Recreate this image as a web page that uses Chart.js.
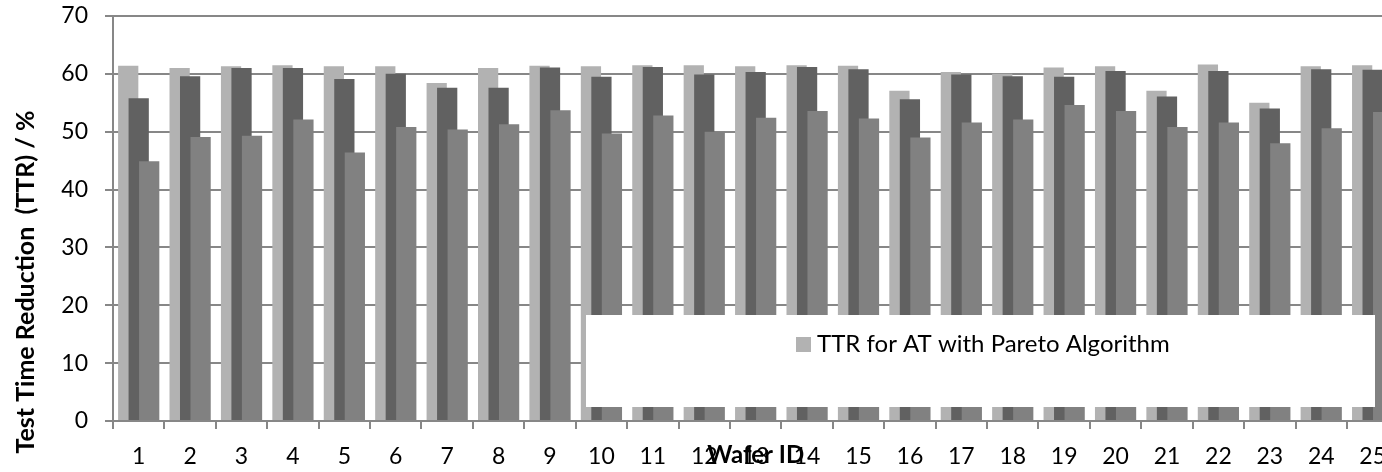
<!DOCTYPE html>
<html>
<head>
<meta charset="utf-8">
<script src="https://cdn.jsdelivr.net/npm/chart.js@4/dist/chart.umd.min.js"></script>
<style>
  html, body { margin: 0; padding: 0; background: #fff; overflow: hidden; }
  #wrap { width: 1400px; height: 472px; }
</style>
</head>
<body>
<div id="wrap"><canvas id="ttrChart" width="1400" height="472"></canvas></div>
<script>
// ---- Data ----
const wafers = ['1', '2', '3', '4', '5', '6', '7', '8', '9', '10', '11', '12', '13',
                '14', '15', '16', '17', '18', '19', '20', '21', '22', '23', '24', '25'];
const ttrPareto = [61.4, 61.0, 61.3, 61.5, 61.3, 61.3, 58.4, 61.0, 61.4, 61.3, 61.5, 61.5, 61.3,
                   61.5, 61.4, 57.1, 60.3, 60.0, 61.1, 61.3, 57.1, 61.6, 55.0, 61.3, 61.5];
const ttrSecond = [55.8, 59.6, 61.0, 61.0, 59.1, 60.0, 57.6, 57.6, 61.1, 59.5, 61.2, 59.9, 60.3,
                   61.2, 60.8, 55.6, 59.9, 59.6, 59.5, 60.5, 56.1, 60.5, 54.0, 60.8, 60.7];
const ttrThird = [44.9, 49.1, 49.3, 52.1, 46.4, 50.8, 50.4, 51.3, 53.7, 49.7, 52.8, 50.0, 52.4,
                  53.6, 52.3, 49.0, 51.6, 52.1, 54.6, 53.6, 50.8, 51.6, 48.0, 50.6, 53.4];
const yTicks = [0, 10, 20, 30, 40, 50, 60, 70];

const FONT = 'Lato, "Open Sans", sans-serif';
const GRID = '#878787';

// draw series in index order so each later bar overlaps the previous one
const drawOrderPlugin = {
    id: 'drawOrder',
    beforeDatasetsDraw(chart) {
        chart.getSortedVisibleDatasetMetas().forEach(meta => chart._drawDataset(meta));
        return false;
    }
};

// axis titles + the white legend box sitting over the bars
const overlayPlugin = {
    id: 'overlay',
    afterDraw(chart) {
        const { ctx, chartArea } = chart;
        ctx.save();

        // legend box
        ctx.fillStyle = '#ffffff';
        ctx.fillRect(586, 315, 789, 92);
        const ds = chart.data.datasets[0];
        ctx.fillStyle = ds.backgroundColor;
        ctx.fillRect(796, 337, 15, 15);
        ctx.fillStyle = '#000';
        ctx.font = '24px ' + FONT;
        ctx.textAlign = 'left';
        ctx.textBaseline = 'alphabetic';
        ctx.fillText(ds.label, 817, 352);

        // x title (overlaps the tick labels, as in the original)
        ctx.font = 'bold 24px ' + FONT;
        ctx.textAlign = 'center';
        ctx.fillText('Wafer ID', (chartArea.left + chartArea.right) / 2, 463);

        // y title
        ctx.font = 'bold 25px ' + FONT;
        ctx.translate(34, 282);
        ctx.rotate(-Math.PI / 2);
        ctx.fillText('Test Time Reduction  (TTR) / %', 0, 0);
        ctx.restore();
    }
};

const barStyle = {
    categoryPercentage: 0.612,
    barPercentage: 1.93,
    borderWidth: 0
};

new Chart(document.getElementById('ttrChart'), {
    type: 'bar',
    data: {
        labels: wafers,
        datasets: [
            { label: 'TTR for AT with Pareto Algorithm', data: ttrPareto, backgroundColor: '#b2b2b2', ...barStyle },
            { label: 'TTR series 2', data: ttrSecond, backgroundColor: '#616161', ...barStyle },
            { label: 'TTR series 3', data: ttrThird, backgroundColor: '#818181', ...barStyle }
        ]
    },
    options: {
        responsive: false,
        animation: false,
        layout: { padding: { left: 40, top: 16, right: 1, bottom: 0 } },
        plugins: {
            legend: { display: false },
            tooltip: { enabled: false }
        },
        scales: {
            x: {
                grid: { display: true, drawOnChartArea: false, offset: true, color: GRID, lineWidth: 2, tickLength: 8 },
                border: { color: GRID, width: 2 },
                ticks: { color: '#000', font: { family: FONT, size: 23 }, padding: 14, maxRotation: 0, autoSkip: false },
                afterFit(scale) { scale.height = 51; }
            },
            y: {
                min: 0,
                max: 70,
                afterBuildTicks(scale) { scale.ticks = yTicks.map(v => ({ value: v })); },
                grid: { color: GRID, lineWidth: 2, tickLength: 8 },
                border: { color: GRID, width: 2 },
                ticks: { color: '#000', font: { family: FONT, size: 23 }, padding: 17 },
                afterFit(scale) {
                    scale.width = 73;
                    scale.paddingTop = 0;
                    scale.paddingBottom = 0;
                }
            }
        }
    },
    plugins: [drawOrderPlugin, overlayPlugin]
});
</script>
</body>
</html>
